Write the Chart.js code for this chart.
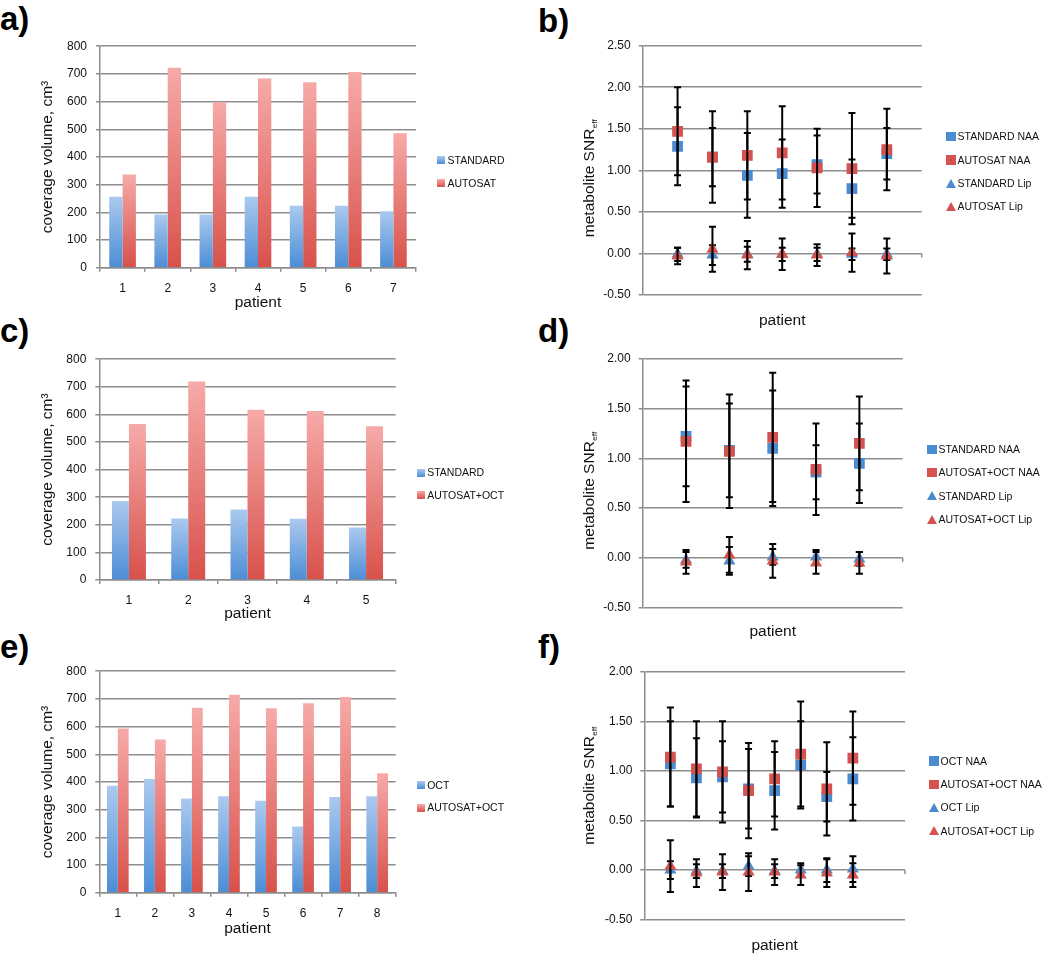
<!DOCTYPE html>
<html>
<head>
    <meta charset="UTF-8">
    <title>Coverage volume and metabolite SNR per patient</title>
    <style>
        body { margin: 0; background: #fff; }
        #page { position: relative; width: 1050px; height: 957px; overflow: hidden; font-family: "Liberation Sans", Arial, sans-serif; }
        .panel { position: absolute; }
        .panel canvas { display: block; }
        .tag { position: absolute; font: bold 33px/33px "Liberation Sans", Arial, sans-serif; color: #000; }
        .legend { position: absolute; font-size: 10.5px; color: #111; }
        .legend .item { display: flex; align-items: center; white-space: nowrap; line-height: 1; }
        .mk { display: inline-block; flex: none; }
        .mk.bar { width: 8px; height: 8px; margin-right: 2.5px; }
        .mk.rect { width: 9.5px; height: 9.5px; margin-right: 2px; }
        .mk.tri { width: 0; height: 0; border-left: 5px solid transparent; border-right: 5px solid transparent; border-bottom: 9px solid; margin-right: 1.5px; }
    </style>
</head>
<body>
<div id="page">
    <div class="tag" style="left:0px; top:2px;">a)</div>
    <div class="tag" style="left:538px; top:4px;">b)</div>
    <div class="tag" style="left:0px; top:314px;">c)</div>
    <div class="tag" style="left:538px; top:314px;">d)</div>
    <div class="tag" style="left:0px; top:630px;">e)</div>
    <div class="tag" style="left:538px; top:630px;">f)</div>

    <div class="panel" id="pa"><canvas></canvas></div>
    <div class="panel" id="pb"><canvas></canvas></div>
    <div class="panel" id="pc"><canvas></canvas></div>
    <div class="panel" id="pd"><canvas></canvas></div>
    <div class="panel" id="pe"><canvas></canvas></div>
    <div class="panel" id="pf"><canvas></canvas></div>
</div>

<script src="https://cdn.jsdelivr.net/npm/chart.js@4.4.0/dist/chart.umd.min.js"></script>
<script>
    // ---- data: coverage volume (cm3) ----
    var volRange = [0, 800, 100];

    var patientsA = ['1', '2', '3', '4', '5', '6', '7'];
    var volStandardA = [256, 192, 192, 256, 224, 224, 204];
    var volAutosatA = [337, 722, 598, 683, 670, 707, 486];

    var patientsC = ['1', '2', '3', '4', '5'];
    var volStandardC = [286, 223, 255, 222, 190];
    var volAutosatOctC = [565, 719, 617, 612, 557];

    var patientsE = ['1', '2', '3', '4', '5', '6', '7', '8'];
    var volOctE = [386, 411, 340, 348, 332, 239, 346, 348];
    var volAutosatOctE = [593, 553, 668, 715, 666, 684, 707, 431];

    // ---- data: metabolite SNR_eff (mean and error) ----
    var snrRangeB = [-0.5, 2.5, 0.5];
    var bStandardNaa = [1.29, 1.16, 0.94, 0.96, 1.07, 0.78, 1.20];
    var bStandardNaaErr = [0.47, 0.35, 0.51, 0.41, 0.35, 0.35, 0.31];
    var bAutosatNaa = [1.47, 1.16, 1.18, 1.21, 1.03, 1.02, 1.25];
    var bAutosatNaaErr = [0.53, 0.55, 0.53, 0.56, 0.47, 0.67, 0.49];
    var bStandardLip = [-0.01, -0.02, -0.01, -0.01, -0.01, -0.01, -0.01];
    var bStandardLipErr = [0.08, 0.12, 0.09, 0.08, 0.08, 0.07, 0.07];
    var bAutosatLip = [-0.03, 0.05, -0.02, -0.01, -0.02, 0.01, -0.03];
    var bAutosatLipErr = [0.10, 0.27, 0.17, 0.19, 0.13, 0.23, 0.21];

    var snrRangeD = [-0.5, 2.0, 0.5];
    var dStandardNaa = [1.22, 1.08, 1.10, 0.86, 0.95];
    var dStandardNaaErr = [0.50, 0.47, 0.58, 0.27, 0.40];
    var dAutosatOctNaa = [1.17, 1.07, 1.21, 0.89, 1.15];
    var dAutosatOctNaaErr = [0.61, 0.57, 0.65, 0.46, 0.47];
    var dStandardLip = [-0.02, -0.03, 0.01, 0.01, -0.01];
    var dStandardLipErr = [0.08, 0.14, 0.08, 0.07, 0.07];
    var dAutosatOctLip = [-0.04, 0.03, -0.03, -0.05, -0.05];
    var dAutosatOctLipErr = [0.12, 0.18, 0.17, 0.11, 0.11];

    var snrRangeF = [-0.5, 2.0, 0.5];
    var fOctNaa = [1.07, 0.93, 0.94, 0.82, 0.80, 1.06, 0.74, 0.92];
    var fOctNaaErr = [0.43, 0.40, 0.36, 0.40, 0.39, 0.44, 0.25, 0.42];
    var fAutosatOctNaa = [1.14, 1.02, 0.99, 0.80, 0.92, 1.17, 0.82, 1.13];
    var fAutosatOctNaaErr = [0.50, 0.48, 0.51, 0.48, 0.38, 0.53, 0.47, 0.47];
    var fOctLip = [0.00, -0.01, -0.01, 0.04, -0.01, 0.00, 0.00, 0.01];
    var fOctLipErr = [0.09, 0.07, 0.07, 0.10, 0.07, 0.07, 0.12, 0.13];
    var fAutosatOctLip = [0.04, -0.03, -0.02, -0.02, -0.02, -0.05, -0.03, -0.05];
    var fAutosatOctLipErr = [0.26, 0.14, 0.18, 0.19, 0.13, 0.10, 0.14, 0.12];

    // ---- look ----
    var GRID = '#8d8d8d';
    var TXT = '#111';
    var BLUE = '#4a8bd1', RED = '#d6524e';
    var BLUE_TOP = '#abc9ee', BLUE_BOT = '#4c8dd5';
    var RED_TOP = '#f6aaa8', RED_BOT = '#d8514b';

    Chart.defaults.font.family = '"Liberation Sans", Arial, sans-serif';
    Chart.defaults.color = TXT;

    var page = document.getElementById('page');

    // place a panel and work out paddings so the plot area lands where we want it
    function frame(id, box, area) {
        var el = document.getElementById(id);
        el.style.left = box.left + 'px';
        el.style.top = box.top + 'px';
        var c = el.querySelector('canvas');
        c.width = box.width;
        c.height = box.height;
        return {
            canvas: c,
            padding: { left: 0, top: area.t - box.top, right: box.left + box.width - area.r, bottom: 0 },
            yWidth: area.l - box.left,
            xHeight: box.top + box.height - area.b
        };
    }

    // per-bar vertical gradient, light on top, dark at the base
    function shade(top, bottom) {
        return function (ctx) {
            var chart = ctx.chart;
            if (!chart.chartArea || typeof ctx.raw !== 'number') return bottom;
            var y = chart.scales.y;
            var y0 = y.getPixelForValue(ctx.raw), y1 = y.getPixelForValue(0);
            if (!isFinite(y0) || !isFinite(y1) || y0 === y1) return bottom;
            var g = chart.ctx.createLinearGradient(0, y0, 0, y1);
            g.addColorStop(0, top);
            g.addColorStop(1, bottom);
            return g;
        };
    }

    function addLegend(left, firstY, step, entries) {
        var box = document.createElement('div');
        box.className = 'legend';
        box.style.left = left + 'px';
        box.style.top = (firstY - step / 2) + 'px';
        entries.forEach(function (e) {
            var row = document.createElement('div');
            row.className = 'item';
            row.style.height = step + 'px';
            var mk = document.createElement('span');
            mk.className = 'mk ' + e.shape;
            if (e.shape === 'tri') mk.style.borderBottomColor = e.color;
            else mk.style.background = e.color;
            row.appendChild(mk);
            var t = document.createElement('span');
            t.textContent = e.text;
            row.appendChild(t);
            box.appendChild(row);
        });
        page.appendChild(box);
    }

    function volumeChart(id, box, area, labels, series, catPct, titlePad, legend) {
        var f = frame(id, box, area);
        new Chart(f.canvas, {
            type: 'bar',
            data: {
                labels: labels,
                datasets: series.map(function (s) {
                    return {
                        label: s.label,
                        data: s.data,
                        backgroundColor: shade(s.top, s.bottom),
                        borderWidth: 0,
                        barPercentage: 1,
                        categoryPercentage: catPct
                    };
                })
            },
            options: {
                responsive: false,
                animation: false,
                layout: { padding: f.padding },
                plugins: { legend: { display: false }, tooltip: { enabled: false } },
                scales: {
                    x: {
                        grid: { drawOnChartArea: false, color: GRID, lineWidth: 1.5, tickLength: 4 },
                        border: { color: GRID, width: 1.5 },
                        ticks: { padding: 9.5, font: { size: 12 }, color: TXT },
                        title: { display: true, text: 'patient', font: { size: 15.5 }, color: TXT, padding: { top: 0, bottom: titlePad } },
                        afterFit: function (s) { s.height = f.xHeight; }
                    },
                    y: {
                        min: volRange[0], max: volRange[1],
                        ticks: { stepSize: volRange[2], padding: 9, font: { size: 12 }, color: TXT },
                        grid: { color: GRID, lineWidth: 1.5, tickLength: 4 },
                        border: { color: GRID, width: 1.5 },
                        title: { display: true, text: 'coverage volume, cm\u00B3', font: { size: 15.5 }, color: TXT, padding: { top: 38.7, bottom: 0 } },
                        afterFit: function (s) { s.width = f.yWidth; }
                    }
                }
            }
        });
        addLegend(legend.x, legend.y, legend.step, series.map(function (s) {
            return { text: s.label, shape: 'bar', color: 'linear-gradient(' + s.top + ', ' + s.bottom + ')' };
        }));
    }

    // error bars, drawn after each dataset's markers
    var errorBars = {
        id: 'errorBars',
        afterDatasetDraw: function (chart, args) {
            var ds = chart.data.datasets[args.index];
            if (!ds.err) return;
            var ctx = chart.ctx, xs = chart.scales.x, ys = chart.scales.y;
            ctx.save();
            ctx.strokeStyle = '#000';
            ctx.lineWidth = 2;
            ds.data.forEach(function (p, i) {
                var x = xs.getPixelForValue(p.x);
                var hi = ys.getPixelForValue(p.y + ds.err[i]);
                var lo = ys.getPixelForValue(p.y - ds.err[i]);
                ctx.beginPath();
                ctx.moveTo(x, hi); ctx.lineTo(x, lo);
                ctx.moveTo(x - 3.5, hi); ctx.lineTo(x + 3.5, hi);
                ctx.moveTo(x - 3.5, lo); ctx.lineTo(x + 3.5, lo);
                ctx.stroke();
            });
            ctx.restore();
        }
    };

    // y title with subscript "eff", plus the little tick at the right end of the zero line
    var snrTitle = {
        id: 'snrTitle',
        afterDraw: function (chart, args, opts) {
            var ctx = chart.ctx;
            var main = 'metabolite SNR', sub = 'eff';
            var y0 = chart.scales.y.getPixelForValue(0);
            ctx.save();
            ctx.strokeStyle = GRID;
            ctx.lineWidth = 1.5;
            ctx.beginPath();
            ctx.moveTo(chart.chartArea.right, y0);
            ctx.lineTo(chart.chartArea.right, y0 + 4);
            ctx.stroke();
            ctx.translate(opts.x, opts.y);
            ctx.rotate(-Math.PI / 2);
            ctx.fillStyle = TXT;
            ctx.textBaseline = 'alphabetic';
            ctx.font = '15.5px "Liberation Sans", Arial, sans-serif';
            var w1 = ctx.measureText(main).width;
            ctx.font = '8px "Liberation Sans", Arial, sans-serif';
            var w2 = ctx.measureText(sub).width;
            var x0 = -(w1 + w2 + 0.5) / 2;
            ctx.font = '15.5px "Liberation Sans", Arial, sans-serif';
            ctx.fillText(main, x0, 5.4);
            ctx.font = '8px "Liberation Sans", Arial, sans-serif';
            ctx.fillText(sub, x0 + w1 + 0.5, 8.6);
            ctx.restore();
        }
    };

    function points(values) {
        return values.map(function (v, i) { return { x: i + 1, y: v }; });
    }

    function snrChart(id, box, area, xMax, yRange, series, titlePad, titlePos, legend) {
        var f = frame(id, box, area);
        new Chart(f.canvas, {
            type: 'scatter',
            data: {
                datasets: series.map(function (s) {
                    var r = s.shape === 'tri' ? 7 : 7.6;
                    return {
                        label: s.label,
                        data: points(s.values),
                        err: s.err,
                        pointStyle: s.shape === 'tri' ? 'triangle' : 'rect',
                        pointRadius: r,
                        pointHoverRadius: r,
                        borderWidth: 0,
                        backgroundColor: s.color,
                        borderColor: s.color,
                        order: s.color === RED ? 1 : 2
                    };
                })
            },
            plugins: [errorBars, snrTitle],
            options: {
                responsive: false,
                animation: false,
                layout: { padding: f.padding },
                plugins: {
                    legend: { display: false },
                    tooltip: { enabled: false },
                    snrTitle: titlePos
                },
                scales: {
                    x: {
                        type: 'linear', min: 0, max: xMax,
                        grid: { display: false },
                        border: { display: false },
                        ticks: { display: false },
                        title: { display: true, text: 'patient', font: { size: 15.5 }, color: TXT, padding: { top: 0, bottom: titlePad } },
                        afterFit: function (s) { s.height = f.xHeight; }
                    },
                    y: {
                        min: yRange[0], max: yRange[1],
                        ticks: {
                            stepSize: yRange[2], padding: 8, font: { size: 12 }, color: TXT,
                            callback: function (v) { return Number(v).toFixed(2); }
                        },
                        grid: { color: GRID, lineWidth: 1.5, tickLength: 4 },
                        border: { color: GRID, width: 1.5 },
                        afterFit: function (s) { s.width = f.yWidth; }
                    }
                }
            }
        });
        addLegend(legend.x, legend.y, legend.step, series.map(function (s) {
            return { text: s.label, shape: s.shape, color: s.color };
        }));
    }

    // a)
    volumeChart('pa', { left: 0, top: 30, width: 520, height: 290 }, { l: 100, t: 45.7, r: 416, b: 267.7 },
        patientsA, [
            { label: 'STANDARD', data: volStandardA, top: BLUE_TOP, bottom: BLUE_BOT },
            { label: 'AUTOSAT', data: volAutosatA, top: RED_TOP, bottom: RED_BOT }
        ], 0.59, 7.7, { x: 437, y: 160, step: 23 });

    // c)
    volumeChart('pc', { left: 0, top: 343, width: 520, height: 287 }, { l: 99.3, t: 358.3, r: 395.7, b: 580 },
        patientsC, [
            { label: 'STANDARD', data: volStandardC, top: BLUE_TOP, bottom: BLUE_BOT },
            { label: 'AUTOSAT+OCT', data: volAutosatOctC, top: RED_TOP, bottom: RED_BOT }
        ], 0.573, 7.1, { x: 416.7, y: 472.7, step: 22.6 });

    // e)
    volumeChart('pe', { left: 0, top: 655, width: 520, height: 295 }, { l: 99.3, t: 671, r: 395.7, b: 892.7 },
        patientsE, [
            { label: 'OCT', data: volOctE, top: BLUE_TOP, bottom: BLUE_BOT },
            { label: 'AUTOSAT+OCT', data: volAutosatOctE, top: RED_TOP, bottom: RED_BOT }
        ], 0.585, 12.4, { x: 416.7, y: 785, step: 22.7 });

    // b)
    snrChart('pb', { left: 520, top: 30, width: 530, height: 305 }, { l: 642.7, t: 45.7, r: 921.7, b: 295 },
        8, snrRangeB, [
            { label: 'STANDARD NAA', values: bStandardNaa, err: bStandardNaaErr, shape: 'rect', color: BLUE },
            { label: 'AUTOSAT NAA', values: bAutosatNaa, err: bAutosatNaaErr, shape: 'rect', color: RED },
            { label: 'STANDARD Lip', values: bStandardLip, err: bStandardLipErr, shape: 'tri', color: BLUE },
            { label: 'AUTOSAT Lip', values: bAutosatLip, err: bAutosatLipErr, shape: 'tri', color: RED }
        ], 5.1, { x: 68.6, y: 148.3 }, { x: 946, y: 136.5, step: 23.3 });

    // d)
    snrChart('pd', { left: 520, top: 343, width: 530, height: 302 }, { l: 642.7, t: 358.7, r: 902.7, b: 607.7 },
        6, snrRangeD, [
            { label: 'STANDARD NAA', values: dStandardNaa, err: dStandardNaaErr, shape: 'rect', color: BLUE },
            { label: 'AUTOSAT+OCT NAA', values: dAutosatOctNaa, err: dAutosatOctNaaErr, shape: 'rect', color: RED },
            { label: 'STANDARD Lip', values: dStandardLip, err: dStandardLipErr, shape: 'tri', color: BLUE },
            { label: 'AUTOSAT+OCT Lip', values: dAutosatOctLip, err: dAutosatOctLipErr, shape: 'tri', color: RED }
        ], 3.9, { x: 68.6, y: 147.8 }, { x: 927, y: 449.3, step: 23.3 });

    // f)
    snrChart('pf', { left: 520, top: 655, width: 530, height: 302 }, { l: 644.3, t: 671.7, r: 905, b: 919.7 },
        10, snrRangeF, [
            { label: 'OCT NAA', values: fOctNaa, err: fOctNaaErr, shape: 'rect', color: BLUE },
            { label: 'AUTOSAT+OCT NAA', values: fAutosatOctNaa, err: fAutosatOctNaaErr, shape: 'rect', color: RED },
            { label: 'OCT Lip', values: fOctLip, err: fOctLipErr, shape: 'tri', color: BLUE },
            { label: 'AUTOSAT+OCT Lip', values: fAutosatOctLip, err: fAutosatOctLipErr, shape: 'tri', color: RED }
        ], 2.2, { x: 68.6, y: 130.8 }, { x: 929, y: 761, step: 23.3 });
</script>
</body>
</html>
